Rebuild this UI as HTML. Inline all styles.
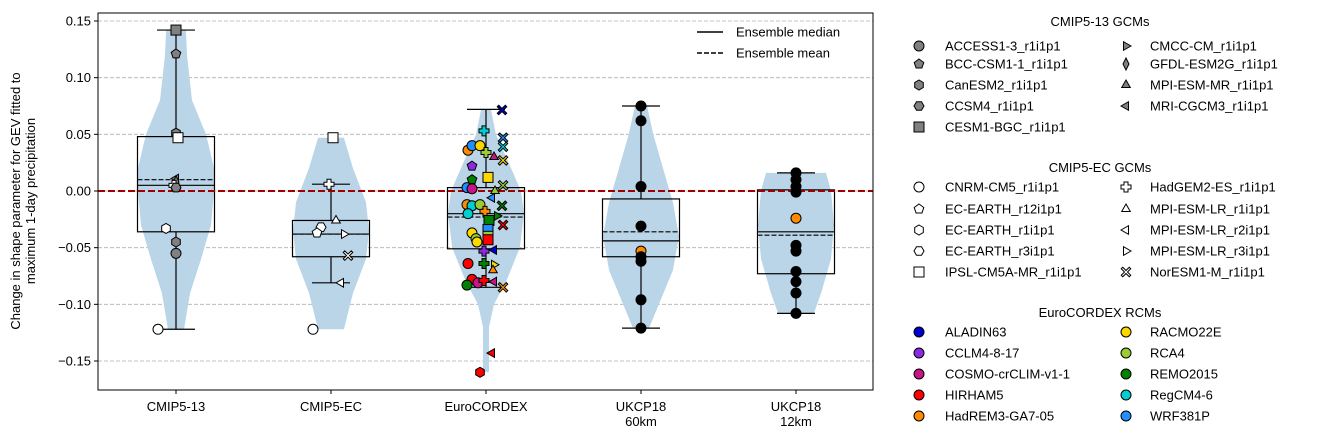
<!DOCTYPE html>
<html><head><meta charset="utf-8"><style>
body{margin:0;background:#fff;}
svg text{font-family:"Liberation Sans",sans-serif;font-size:13px;fill:#000;}
</style></head><body>
<svg id="chart" width="1321" height="440" xmlns="http://www.w3.org/2000/svg">
<g id="grid"></g><g id="violins"></g><g id="boxes"></g><g id="points"></g><g id="axes"></g><g id="legend"></g>
</svg>
<script>
const categories=["CMIP5-13","CMIP5-EC","EuroCORDEX","UKCP18\n60km","UKCP18\n12km"];
const yTicks=[0.15,0.10,0.05,0.00,-0.05,-0.10,-0.15];
const yTickLabels=["0.15","0.10","0.05","0.00","−0.05","−0.10","−0.15"];
// violin densities (value, relative half-width)
const violinVals=[
 [0.142,0.12,0.08,0.05,0.02,0,-0.03,-0.06,-0.09,-0.122],
 [0.047,0.02,-0.01,-0.035,-0.06,-0.09,-0.122],
 [0.072,0.05,0.03,0,-0.02,-0.05,-0.08,-0.1,-0.12,-0.14,-0.16],
 [0.075,0.05,0.02,-0.01,-0.04,-0.07,-0.1,-0.121],
 [0.016,0,-0.03,-0.06,-0.09,-0.108]];
const violinDens=[
 [0.26,0.29,0.42,0.79,1,1,0.92,0.66,0.37,0.21],
 [0.34,0.58,0.92,1,0.92,0.58,0.34],
 [0.13,0.26,0.53,0.92,1,0.89,0.53,0.21,0.08,0.08,0.08],
 [0.16,0.32,0.58,0.84,1,0.84,0.47,0.21],
 [0.79,0.92,1,0.92,0.66,0.47]];
// box stats: [whiskerLow,q1,median,q3,whiskerHigh,mean]
const boxStats=[
 [-0.122,-0.036,0.005,0.048,0.142,0.010],
 [-0.081,-0.058,-0.038,-0.026,0.006,-0.038],
 [-0.085,-0.051,-0.020,0.003,0.072,-0.023],
 [-0.121,-0.058,-0.044,-0.007,0.075,-0.036],
 [-0.108,-0.073,-0.036,0.001,0.016,-0.039]];
// points: category, value, marker, color
const ptCat=[0,0,0,0,0,0,0,0,0,0,0,0,0,
 1,1,1,1,1,1,1,1,1];
const ptVal=[0.142,0.121,0.051,0.011,0.004,0.008,-0.045,-0.055,0.047,-0.033,-0.122,0.005,0.003,
 0.047,0.006,-0.026,-0.032,-0.037,-0.038,-0.057,-0.081,-0.122];
const ptMark=["s","p","h","<","^","d","h","o","s","h","o","+","8",
 "s","+","^","8","p",">","x","<","o"];
const ptFill=["#808080","#808080","#808080","#808080","#808080","#808080","#808080","#808080","#fff","#fff","#fff","#fff","#808080",
 "#fff","#fff","#fff","#fff","#fff","#fff","#fff","#fff","#fff"];
const ptJit=[0,0,0,0,0,0,0,0,2,-10,-18,-2,0,
 2,-2,5,-10,-14,13,17,10,-18];
// EuroCORDEX points
const ecVal=[0.0715,0.053,0.047,0.039,0.027,0.036,0.040,0.040,0.034,0.030,0.022,0.012,0.010,0.005,0.003,0.002,0.000,-0.006,-0.012,-0.013,-0.012,-0.013,-0.018,-0.020,-0.026,-0.022,-0.030,-0.034,-0.040,-0.043,-0.037,-0.042,-0.045,-0.053,-0.052,-0.064,-0.064,-0.065,-0.070,-0.078,-0.081,-0.083,-0.079,-0.080,-0.085,-0.143,-0.160];
const ecMark=["x","+","x","x","x","o","o","o","+","^","p","s","p","x","o","o","^","<","o","o","o","x","+","o","s",">","x","s","s","s","o","o","o","+","<","o","+",">","^","o","o","o","+","<","x","<","h"];
const ecCol=["#0000cd","#00ced1","#1e90ff","#00ced1","#ffd700","#ff8c00","#1e90ff","#ffd700","#9acd32","#c71585","#8a2be2","#ffd700","#008000","#9acd32","#1e90ff","#c71585","#9acd32","#1e90ff","#ff8c00","#00ced1","#9acd32","#008000","#ff8c00","#00ced1","#008000","#008000","#ff0000","#1e90ff","#9acd32","#ff0000","#ffd700","#9acd32","#ffd700","#8a2be2","#0000cd","#ff0000","#008000","#ffd700","#ff8c00","#ff0000","#c71585","#008000","#ff0000","#c71585","#ff8c00","#ff0000","#ff0000"];
const ecJit=[16,-2,17,17,17,-18,-14,-6,0,8,-14,2,-14,17,-19,-14,9,6,-19,-14,-6,16,-1,-18,3,11,17,2,2,2,-14,-10,-9,-2,8,-18,-2,8,7,-14,-8,-19,-2,8,17,6,-6];
const ukVal=[[0.075,0.062,0.004,-0.031,-0.053,-0.058,-0.062,-0.096,-0.121],
 [0.016,0.010,0.004,-0.001,-0.024,-0.048,-0.053,-0.071,-0.080,-0.090,-0.108]];
const ukOrange=[[-0.053],[-0.024]];

const NS="http://www.w3.org/2000/svg";
const X0=98,X1=873,Y0=13,Y1=390;
const yS=v=>191-v*1133.33;
const xS=i=>176+i*155;
function mk(tag,attrs,parent){const e=document.createElementNS(NS,tag);for(const k in attrs)e.setAttribute(k,attrs[k]);parent.appendChild(e);return e;}
const G=id=>document.getElementById(id);

// grid
yTicks.forEach(t=>{const l=mk("line",{x1:X0,x2:X1,y1:yS(t),y2:yS(t),stroke:"#b0b0b0","stroke-dasharray":"4,2","stroke-width":0.8},G("grid"));

});

// violins
violinVals.forEach((vals,i)=>{let L=[],R=[];vals.forEach((v,j)=>{const w=violinDens[i][j]*38;L.push([xS(i)-w,yS(v)]);R.push([xS(i)+w,yS(v)]);});
 const pts=R.concat(L.reverse());const d="M"+pts.map(p=>p[0].toFixed(1)+","+p[1].toFixed(1)).join("L")+"Z";
 const p=mk("path",{d:d,fill:"#bad4e8",stroke:"none"},G("violins"));
 
 });

// boxes
boxStats.forEach((s,i)=>{const x=xS(i),g=mk("g",{},G("boxes"));
 
 
 const st={stroke:"#000","stroke-width":1.2,fill:"none"};
 mk("line",Object.assign({x1:x,x2:x,y1:yS(s[0]),y2:yS(s[1])},st),g);
 mk("line",Object.assign({x1:x,x2:x,y1:yS(s[3]),y2:yS(s[4])},st),g);
 mk("line",Object.assign({x1:x-19,x2:x+19,y1:yS(s[0]),y2:yS(s[0])},st),g);
 mk("line",Object.assign({x1:x-19,x2:x+19,y1:yS(s[4]),y2:yS(s[4])},st),g);
 mk("rect",Object.assign({x:x-38.5,y:yS(s[3]),width:77,height:yS(s[1])-yS(s[3])},st),g);
 mk("line",Object.assign({x1:x-38.5,x2:x+38.5,y1:yS(s[2]),y2:yS(s[2])},st),g);
 mk("line",Object.assign({x1:x-38.5,x2:x+38.5,y1:yS(s[5]),y2:yS(s[5]),"stroke-dasharray":"5,2"},st),g);
});
// zero line
const z=mk("line",{x1:X0,x2:X1,y1:yS(0),y2:yS(0),stroke:"#a00000","stroke-width":2,"stroke-dasharray":"7,3"},G("boxes"));



function marker(t,x,y,fill,parent,r){r=r||5;const a={fill:fill,stroke:"#000","stroke-width":1};let e;
 const poly=(n,rot)=>{let p=[];for(let k=0;k<n;k++){const an=rot+k*2*Math.PI/n;p.push((x+r*Math.cos(an)).toFixed(1)+","+(y+r*Math.sin(an)).toFixed(1));}return p.join(" ");};
 if(t=="o")e=mk("circle",Object.assign({cx:x,cy:y,r:r},a),parent);
 else if(t=="s")e=mk("rect",Object.assign({x:x-r,y:y-r,width:2*r,height:2*r},a),parent);
 else if(t=="p")e=mk("polygon",Object.assign({points:poly(5,-Math.PI/2)},a),parent);
 else if(t=="h")e=mk("polygon",Object.assign({points:poly(6,-Math.PI/2)},a),parent);
 else if(t=="8")e=mk("polygon",Object.assign({points:poly(6,0)},a),parent);
 else if(t=="^")e=mk("polygon",Object.assign({points:poly(3,-Math.PI/2)},a),parent);
 else if(t=="<")e=mk("polygon",Object.assign({points:poly(3,Math.PI)},a),parent);
 else if(t==">")e=mk("polygon",Object.assign({points:poly(3,0)},a),parent);
 else if(t=="d")e=mk("polygon",Object.assign({points:`${x},${y-r*1.2} ${x+r*0.6},${y} ${x},${y+r*1.2} ${x-r*0.6},${y}`},a),parent);
 else if(t=="+"){const w=r*0.4;e=mk("path",Object.assign({d:`M${x-w},${y-r}h${2*w}v${r-w}h${r-w}v${2*w}h${-(r-w)}v${r-w}h${-2*w}v${-(r-w)}h${-(r-w)}v${-2*w}h${r-w}z`},a),parent);}
 else if(t=="x"){const q=r*0.95,w=r*0.3;e=mk("path",Object.assign({d:`M${x-q},${y-q+w}L${x-q+w},${y-q}L${x},${y-w}L${x+q-w},${y-q}L${x+q},${y-q+w}L${x+w},${y}L${x+q},${y+q-w}L${x+q-w},${y+q}L${x},${y+w}L${x-q+w},${y+q}L${x-q},${y+q-w}L${x-w},${y}z`},a),parent);}
 return e;}

ptVal.forEach((v,k)=>{const e=marker(ptMark[k],xS(ptCat[k])+ptJit[k],yS(v),ptFill[k],G("points"));
 
 });
ecVal.forEach((v,k)=>{const e=marker(ecMark[k],xS(2)+ecJit[k],yS(v),ecCol[k],G("points"));
 
 });
ukVal.forEach((arr,j)=>arr.forEach(v=>{const e=marker("o",xS(3+j),yS(v),ukOrange[j].includes(v)?"#ff8c00":"#000",G("points"));
 
 }));

// axes
const ax=G("axes");
mk("rect",{x:X0,y:Y0,width:X1-X0,height:Y1-Y0,fill:"none",stroke:"#000","stroke-width":1},ax);
yTicks.forEach((t,i)=>{mk("line",{x1:X0-4,x2:X0,y1:yS(t),y2:yS(t),stroke:"#000"},ax);
 const tx=mk("text",{x:X0-7,y:yS(t)+4.5,"text-anchor":"end"},ax);tx.textContent=yTickLabels[i];
 
 });
categories.forEach((c,i)=>{mk("line",{x1:xS(i),x2:xS(i),y1:Y1,y2:Y1+4,stroke:"#000"},ax);
 c.split("\n").forEach((s,j)=>{const tx=mk("text",{x:xS(i),y:411+j*15,"text-anchor":"middle"},ax);tx.textContent=s;
 
 });});
[["Change in shape parameter for GEV fitted to",20],["maximum 1-day precipitation",35]].forEach(a=>{const t=mk("text",{x:0,y:0,"text-anchor":"middle",transform:`translate(${a[1]},201) rotate(-90)`},ax);t.textContent=a[0];
 
 });
// inner legend
[["Ensemble median",32,null],["Ensemble mean",53,"5,2"]].forEach(a=>{const l=mk("line",{x1:697,x2:723,y1:a[1],y2:a[1],stroke:"#000","stroke-width":1.5},ax);if(a[2])l.setAttribute("stroke-dasharray",a[2]);
 
 
 const t=mk("text",{x:736,y:a[1]+4.5},ax);t.textContent=a[0];
 
 });

// right legend
const lg=G("legend");
function sect(title,ty,rows,col1,col2){const t=mk("text",{x:1100,y:ty,"text-anchor":"middle"},lg);t.textContent=title;
 
 
 col1.forEach((e,k)=>{marker(e[1],919,rows[k],e[2],lg);const tx=mk("text",{x:945,y:rows[k]+4.5},lg);tx.textContent=e[0];
 
 });
 col2.forEach((e,k)=>{marker(e[1],1126,rows[k],e[2],lg);const tx=mk("text",{x:1150,y:rows[k]+4.5},lg);tx.textContent=e[0];
 
 });}
const g="#808080",w="#fff";
sect("CMIP5-13 GCMs",26,[46,64,85,106,127],
 [["ACCESS1-3_r1i1p1","o",g],["BCC-CSM1-1_r1i1p1","p",g],["CanESM2_r1i1p1","h",g],["CCSM4_r1i1p1","8",g],["CESM1-BGC_r1i1p1","s",g]],
 [["CMCC-CM_r1i1p1",">",g],["GFDL-ESM2G_r1i1p1","d",g],["MPI-ESM-MR_r1i1p1","^",g],["MRI-CGCM3_r1i1p1","<",g]]);
sect("CMIP5-EC GCMs",172,[187,209,230,251,272],
 [["CNRM-CM5_r1i1p1","o",w],["EC-EARTH_r12i1p1","p",w],["EC-EARTH_r1i1p1","h",w],["EC-EARTH_r3i1p1","8",w],["IPSL-CM5A-MR_r1i1p1","s",w]],
 [["HadGEM2-ES_r1i1p1","+",w],["MPI-ESM-LR_r1i1p1","^",w],["MPI-ESM-LR_r2i1p1","<",w],["MPI-ESM-LR_r3i1p1",">",w],["NorESM1-M_r1i1p1","x",w]]);
sect("EuroCORDEX RCMs",317,[332,353,374,395,416],
 [["ALADIN63","o","#0000cd"],["CCLM4-8-17","o","#8a2be2"],["COSMO-crCLIM-v1-1","o","#c71585"],["HIRHAM5","o","#ff0000"],["HadREM3-GA7-05","o","#ff8c00"]],
 [["RACMO22E","o","#ffd700"],["RCA4","o","#9acd32"],["REMO2015","o","#008000"],["RegCM4-6","o","#00ced1"],["WRF381P","o","#1e90ff"]]);
</script>
</body></html>
